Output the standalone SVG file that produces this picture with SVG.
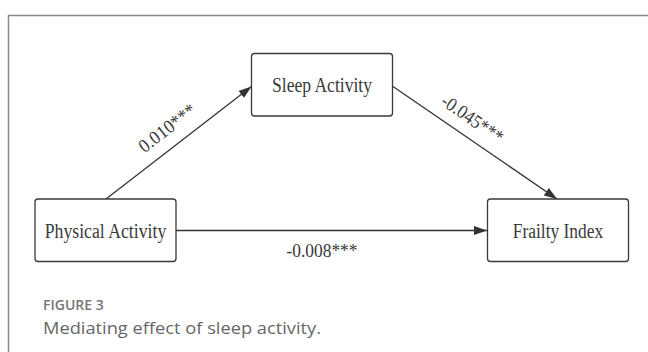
<svg xmlns="http://www.w3.org/2000/svg" width="648" height="352" viewBox="0 0 648 352">
<defs>
<style>
.frame{fill:none;stroke:#8a8a8a;stroke-width:1.5}
.box{fill:#fff;stroke:#3a3a3a;stroke-width:1.3}
.lbl{font-family:"Liberation Serif","Times New Roman",serif;font-size:20px;fill:#3a3a3a;text-anchor:middle}
.el{font-family:"Liberation Serif","Times New Roman",serif;font-size:19px;fill:#3a3a3a;text-anchor:middle}
.edge{stroke:#333;stroke-width:1.3;fill:none;marker-end:url(#ah)}
.cap1{font-family:"Open Sans","Liberation Sans",sans-serif;font-size:14px;font-weight:600;fill:#777}
.cap2{font-family:"Open Sans","Liberation Sans",sans-serif;font-size:17px;fill:#666}
</style>
<marker id="ah" viewBox="0 0 13 9" refX="13" refY="4.5" markerWidth="13" markerHeight="9" markerUnits="userSpaceOnUse" orient="auto">
<path d="M0,0 L13,4.5 L0,9 z" fill="#333"/>
</marker>
</defs>
<rect width="648" height="352" fill="#fff"/>
<rect class="frame" x="8.5" y="15.5" width="700" height="400"/>
<g id="connectors">
<line class="edge" x1="106" y1="199" x2="251.5" y2="86.5"/>
<line class="edge" x1="393" y1="86.5" x2="557" y2="199"/>
<line class="edge" x1="176" y1="230.5" x2="487" y2="230.5"/>
<text class="el" transform="translate(171,133) rotate(-37.5)" textLength="67" lengthAdjust="spacingAndGlyphs">0.010***</text>
<text class="el" transform="translate(469,124) rotate(34.5)" textLength="71" lengthAdjust="spacingAndGlyphs">-0.045***</text>
<text class="el" x="322" y="256.5" textLength="71" lengthAdjust="spacingAndGlyphs">-0.008***</text>
</g>
<g id="sleep">
<rect class="box" x="251.5" y="53.5" width="141" height="62.5" rx="3"/>
<text class="lbl" x="322" y="91.5" textLength="100" lengthAdjust="spacingAndGlyphs">Sleep Activity</text>
</g>
<g id="physical">
<rect class="box" x="35" y="199" width="141" height="62.5" rx="3"/>
<text class="lbl" x="105.5" y="237.5" textLength="121.5" lengthAdjust="spacingAndGlyphs">Physical Activity</text>
</g>
<g id="frailty">
<rect class="box" x="487.5" y="199" width="141" height="62.5" rx="3"/>
<text class="lbl" x="558" y="237.5" textLength="90.5" lengthAdjust="spacingAndGlyphs">Frailty Index</text>
</g>
<text class="cap1" x="43" y="310">FIGURE 3</text>
<text class="cap2" x="43" y="334" textLength="278" lengthAdjust="spacingAndGlyphs">Mediating effect of sleep activity.</text>
</svg>
